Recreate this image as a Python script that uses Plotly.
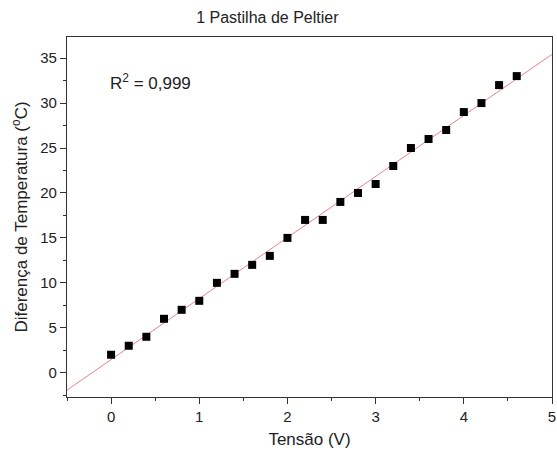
import numpy as np
import plotly.graph_objects as go

tensao = [0.0, 0.2, 0.4, 0.6, 0.8, 1.0, 1.2, 1.4, 1.6, 1.8, 2.0, 2.2,
          2.4, 2.6, 2.8, 3.0, 3.2, 3.4, 3.6, 3.8, 4.0, 4.2, 4.4, 4.6]
diferenca = [2, 3, 4, 6, 7, 8, 10, 11, 12, 13, 15, 17,
             17, 19, 20, 21, 23, 25, 26, 27, 29, 30, 32, 33]

x_range = [-0.5, 5.0]
y_range = [-2.7, 37.35]

slope, intercept = np.polyfit(tensao, diferenca, 1)
fit_x = np.array(x_range)
fit_y = slope * fit_x + intercept

font = "Liberation Sans, Arial, sans-serif"

fig = go.Figure()
fig.add_trace(go.Scatter(x=fit_x, y=fit_y, mode="lines",
                         line=dict(color="rgba(225,110,110,0.85)", width=1),
                         hoverinfo="skip", showlegend=False))
fig.add_trace(go.Scatter(x=tensao, y=diferenca, mode="markers",
                         marker=dict(symbol="square", size=8, color="black"),
                         showlegend=False))

axis_common = dict(showline=True, linecolor="#333333", linewidth=1.3, mirror=True,
                   ticks="outside", ticklen=6, tickwidth=1.2, tickcolor="#333333",
                   showgrid=False, zeroline=False, automargin=False,
                   tickfont=dict(family=font, size=15, color="#222222"))

fig.update_xaxes(range=x_range, dtick=1, tick0=0,
                 minor=dict(ticks="outside", ticklen=3, dtick=0.5, tick0=0, tickcolor="#333333"),
                 title=dict(text="Tensão (V)", font=dict(family=font, size=17, color="#222222"), standoff=8),
                 **axis_common)
fig.update_yaxes(range=y_range, dtick=5, tick0=0,
                 minor=dict(ticks="outside", ticklen=3, dtick=2.5, tick0=0, tickcolor="#333333"),
                 title=dict(text="Diferença de Temperatura (<sup>o</sup>C)",
                            font=dict(family=font, size=17, color="#222222"), standoff=8),
                 **axis_common)

fig.add_annotation(text="R<sup>2</sup> = 0,999", xref="paper", yref="paper",
                   x=(108 - 67) / 485, y=(397 - 82) / 360, xanchor="left", yanchor="middle",
                   showarrow=False, font=dict(family=font, size=17, color="#222222"))

fig.update_layout(
    width=557, height=450,
    margin=dict(l=67, r=5, t=37, b=53),
    paper_bgcolor="white", plot_bgcolor="white",
    title=dict(text="1 Pastilha de Peltier", xref="container", x=0.48, xanchor="center",
               y=1 - 17 / 450, yanchor="middle",
               font=dict(family=font, size=16, color="#222222")),
)

fig.write_html("out.html", config={"displayModeBar": False},
               post_script="document.body.style.margin='0';document.body.style.overflow='hidden';")
